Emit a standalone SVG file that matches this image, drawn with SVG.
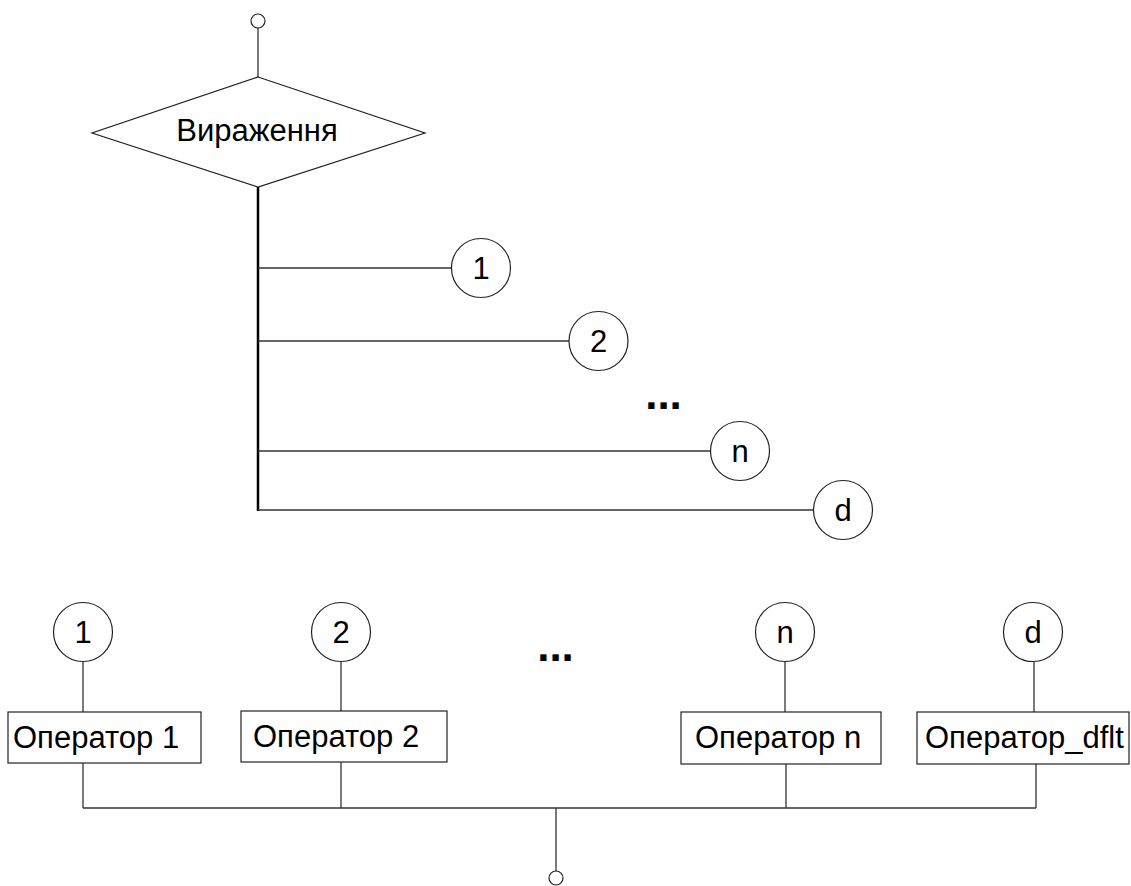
<svg xmlns="http://www.w3.org/2000/svg" width="1131" height="886" viewBox="0 0 1131 886">
  <style>
    .shape { fill: #ffffff; stroke: #222222; stroke-width: 1.2; }
    .wire { fill: none; stroke: #333333; stroke-width: 1.3; }
    .spine { fill: none; stroke: #000000; stroke-width: 2.5; }
    .lbl { font-family: "Liberation Sans", Arial, sans-serif; font-size: 31px; fill: #000000; }
    .mid { text-anchor: middle; }
    .dots { font-family: "Liberation Sans", Arial, sans-serif; font-size: 44px; font-weight: bold; fill: #000000; text-anchor: middle; }
  </style>
  <rect width="1131" height="886" fill="#ffffff"/>

  <!-- connectors -->
  <g id="connectors">
    <line class="wire" x1="258" y1="28" x2="258" y2="77" stroke="#666666" stroke-width="2"/>
    <line class="spine" x1="258" y1="187" x2="258" y2="511"/>
    <line class="wire" x1="258" y1="268" x2="451" y2="268"/>
    <line class="wire" x1="258" y1="341" x2="569" y2="341"/>
    <line class="wire" x1="258" y1="451" x2="710" y2="451"/>
    <line class="wire" x1="258" y1="510" x2="813" y2="510"/>

    <line class="wire" x1="83" y1="662" x2="83" y2="712"/>
    <line class="wire" x1="341" y1="662" x2="341" y2="711"/>
    <line class="wire" x1="785" y1="662" x2="785" y2="712"/>
    <line class="wire" x1="1034" y1="662" x2="1034" y2="712"/>

    <line class="wire" x1="83" y1="763" x2="83" y2="808"/>
    <line class="wire" x1="341" y1="762" x2="341" y2="808"/>
    <line class="wire" x1="786" y1="764" x2="786" y2="808"/>
    <line class="wire" x1="1036" y1="764" x2="1036" y2="808"/>
    <line class="wire" x1="83" y1="808" x2="1036" y2="808"/>
    <line class="wire" x1="556" y1="808" x2="556" y2="871"/>
  </g>

  <!-- entry point -->
  <g id="start">
    <circle class="shape" cx="258" cy="21" r="7"/>
  </g>

  <!-- switch expression -->
  <g id="switch">
    <polygon class="shape" points="258,77 425,133 258,187 92,133"/>
    <text class="lbl mid" x="257" y="141">Вираження</text>
  </g>

  <!-- case connectors on the selector -->
  <g id="case1-out">
    <circle class="shape" cx="481" cy="268" r="29.5"/>
    <text class="lbl mid" x="481" y="279">1</text>
  </g>
  <g id="case2-out">
    <circle class="shape" cx="598.5" cy="341" r="29.5"/>
    <text class="lbl mid" x="598.5" y="352">2</text>
  </g>
  <g id="gap-top">
    <text class="dots" x="663.5" y="409">...</text>
  </g>
  <g id="casen-out">
    <circle class="shape" cx="740" cy="451" r="29.5"/>
    <text class="lbl mid" x="740" y="462">n</text>
  </g>
  <g id="default-out">
    <circle class="shape" cx="843" cy="510" r="29.5"/>
    <text class="lbl mid" x="843" y="521">d</text>
  </g>

  <!-- case connectors on the statements -->
  <g id="case1-in">
    <circle class="shape" cx="83" cy="632" r="29.5"/>
    <text class="lbl mid" x="83" y="643">1</text>
  </g>
  <g id="case2-in">
    <circle class="shape" cx="341" cy="632" r="29.5"/>
    <text class="lbl mid" x="341" y="643">2</text>
  </g>
  <g id="gap-bottom">
    <text class="dots" x="555.5" y="661">...</text>
  </g>
  <g id="casen-in">
    <circle class="shape" cx="785" cy="632" r="29.5"/>
    <text class="lbl mid" x="785" y="643">n</text>
  </g>
  <g id="default-in">
    <circle class="shape" cx="1033" cy="632" r="29.5"/>
    <text class="lbl mid" x="1033" y="643">d</text>
  </g>

  <!-- statements -->
  <g id="op1">
    <rect class="shape" x="8" y="712" width="193" height="51"/>
    <text class="lbl" x="13" y="748">Оператор 1</text>
  </g>
  <g id="op2">
    <rect class="shape" x="241" y="711" width="206" height="51"/>
    <text class="lbl" x="253" y="747">Оператор 2</text>
  </g>
  <g id="opn">
    <rect class="shape" x="681" y="712" width="200" height="52"/>
    <text class="lbl" x="695" y="748">Оператор n</text>
  </g>
  <g id="opd">
    <rect class="shape" x="917" y="712" width="212" height="52"/>
    <text class="lbl" x="925" y="748">Оператор_dflt</text>
  </g>

  <!-- exit point -->
  <g id="end">
    <circle class="shape" cx="556" cy="878" r="7"/>
  </g>
</svg>
